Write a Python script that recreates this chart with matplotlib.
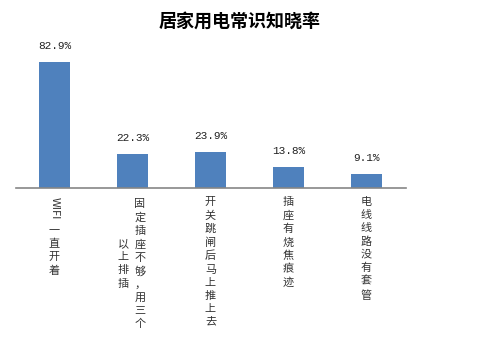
import matplotlib.pyplot as plt
import matplotlib.transforms as mtransforms

plt.rcParams['font.family'] = ['Noto Sans CJK SC', 'DejaVu Sans']

title = '居家用电常识知晓率'
categories = ['WIFI一直开着', '固定插座不够，用三个以上排插', '开关跳闸后马上推上去',
              '插座有烧焦痕迹', '电线线路没有套管']
values = [82.9, 22.3, 23.9, 13.8, 9.1]

bar_color = '#4F81BD'
axis_color = '#868686'

fig = plt.figure(figsize=(4.8, 3.42), dpi=100)
W, H = 480.0, 342.0
# axes placed in pixel units: baseline at y=188, categories 78px wide
ax = fig.add_axes([15.5 / W, (H - 188) / H, 390 / W, 136.8 / H])
x = list(range(len(values)))
ax.bar(x, values, width=0.4, color=bar_color, zorder=2)
ax.set_xlim(-0.5, len(values) - 0.5)
ax.set_ylim(0, 90)
for s in ['top', 'right', 'left']:
    ax.spines[s].set_visible(False)
ax.spines['bottom'].set_color(axis_color)
ax.spines['bottom'].set_linewidth(1.2)
ax.set_xticks([])
ax.set_yticks([])

for i, v in enumerate(values):
    ax.annotate('%.1f%%' % v, (i, v), xytext=(0, 11.5), textcoords='offset points',
                ha='center', va='center', fontsize=8,
                family=['Liberation Mono', 'DejaVu Sans Mono'], color='#222222')

fig.text(0.5, (H - 21) / H, title, ha='center', va='center', fontsize=13,
         fontweight='bold', color='#000000')

tr = mtransforms.blended_transform_factory(ax.transData, fig.transFigure)
top = (H - 197) / H
lab_kw = dict(fontsize=8, color='#333333', linespacing=1.38, transform=tr)

def stack(s):
    return '\n'.join(s)

# category 1: latin part turned sideways, CJK part stacked
ax.text(0, top, 'WIFI', rotation=270, ha='center', va='top', **lab_kw)
ax.text(0, (H - 226) / H, stack(categories[0][4:]), ha='center', va='top', **lab_kw)

# category 2 wraps into two columns, read right to left
mid = (H - 264) / H
ax.text(1 + 7.5 / 78, mid, stack(categories[1][:10]), ha='center', va='center', **lab_kw)
ax.text(1 - 9.5 / 78, mid, stack(categories[1][10:]), ha='center', va='center', **lab_kw)

for i in range(2, len(categories)):
    ax.text(i, top, stack(categories[i]), ha='center', va='top', **lab_kw)

fig.savefig('out.png', dpi=100)
